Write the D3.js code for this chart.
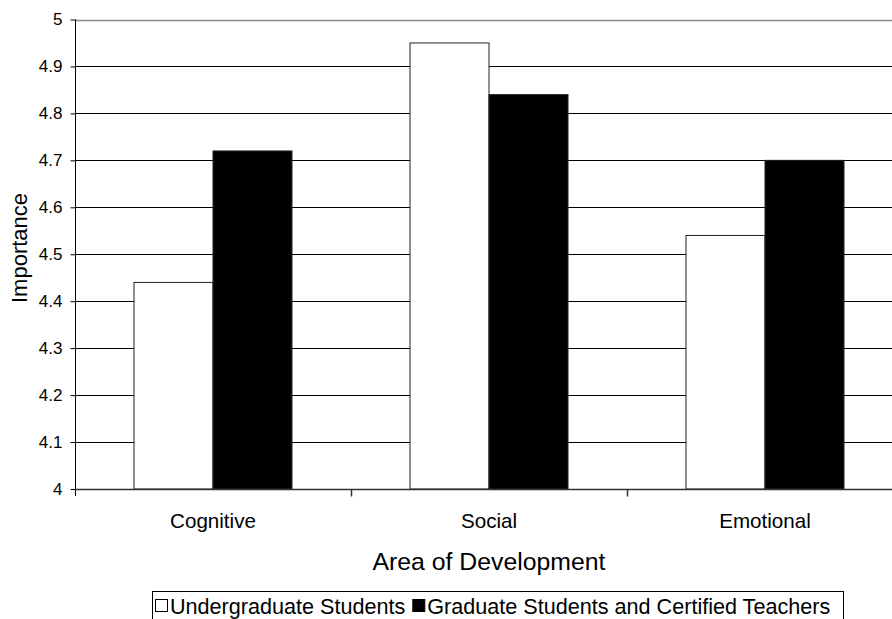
<!DOCTYPE html>
<html>
<head>
<meta charset="utf-8">
<script src="https://cdn.jsdelivr.net/npm/d3@7"></script>
<style>
  html, body { margin: 0; padding: 0; background: #fff; }
  svg { display: block; font-family: "Liberation Sans", Arial, sans-serif; }
</style>
</head>
<body>
<svg id="chart" width="892" height="619"></svg>
<script>
// Mean importance ratings by area of development
const categories = ["Cognitive", "Social", "Emotional"];
const seriesNames = ["Undergraduate Students", "Graduate Students and Certified Teachers"];
const undergradValues = [4.44, 4.95, 4.54];
const graduateValues = [4.72, 4.84, 4.70];
const yTicks = [4, 4.1, 4.2, 4.3, 4.4, 4.5, 4.6, 4.7, 4.8, 4.9, 5];
const seriesFill = ["#ffffff", "#000000"];

const svg = d3.select("#chart");
const plot = { left: 75, right: 903, top: 19.5, bottom: 489 };

const x = d3.scaleBand().domain(categories).range([plot.left, plot.right]).padding(0);
const y = d3.scaleLinear().domain([4, 5]).range([plot.bottom, plot.top]);
const barW = x.bandwidth() * 79 / 276;

// horizontal gridlines
svg.append("g").selectAll("line").data(yTicks.slice(1)).join("line")
  .attr("x1", plot.left).attr("x2", plot.right)
  .attr("y1", d => Math.round(y(d)) + 0.5).attr("y2", d => Math.round(y(d)) + 0.5)
  .attr("stroke", d => d === 5 ? "#888" : "#000").attr("stroke-width", d => d === 5 ? 1.5 : 1);

// bars
const rows = categories.map((c, i) => [
  { cat: c, s: 0, v: undergradValues[i] },
  { cat: c, s: 1, v: graduateValues[i] }
]).flat();

svg.append("g").selectAll("rect").data(rows).join("rect")
  .attr("x", d => x(d.cat) + x.bandwidth() / 2 - barW + d.s * barW)
  .attr("width", barW)
  .attr("y", d => y(d.v))
  .attr("height", d => y(4) - y(d.v))
  .attr("fill", d => seriesFill[d.s])
  .attr("stroke", "#222").attr("stroke-width", 1);

// y axis
const yAxis = d3.axisLeft(y).tickValues(yTicks).tickSize(5).tickSizeOuter(0)
  .tickFormat(d => d3.format("")(+d.toFixed(1)));
const gy = svg.append("g").attr("transform", `translate(${plot.left + 0.5},0)`).call(yAxis);
gy.select(".domain").attr("stroke", "#000").attr("d", `M0,${plot.top}V${plot.bottom + 7}`);
gy.selectAll(".tick line").attr("stroke", "#000");
gy.selectAll(".tick text").attr("font-size", 17).attr("fill", "#000").attr("x", -13)
  .attr("font-family", "Liberation Sans, Arial, sans-serif");

// x axis baseline with separator ticks between categories
const gx = svg.append("g").attr("transform", `translate(0,${plot.bottom + 0.5})`);
gx.append("line").attr("x1", plot.left).attr("x2", plot.right).attr("stroke", "#333").attr("stroke-width", 1.5);
gx.selectAll("line.sep").data(categories.slice(1)).join("line").attr("class", "sep")
  .attr("x1", d => Math.round(x(d)) + 0.5).attr("x2", d => Math.round(x(d)) + 0.5)
  .attr("y1", 0).attr("y2", 7).attr("stroke", "#333").attr("stroke-width", 1.5);

// category labels
svg.append("g").selectAll("text").data(categories).join("text")
  .attr("x", d => x(d) + x.bandwidth() / 2).attr("y", 528)
  .attr("text-anchor", "middle").attr("font-size", 20.6).text(d => d);

// axis titles
svg.append("text").attr("x", 489).attr("y", 570).attr("text-anchor", "middle")
  .attr("font-size", 24.8).text("Area of Development");
svg.append("text").attr("transform", "translate(27,248) rotate(-90)").attr("text-anchor", "middle")
  .attr("font-size", 22).text("Importance");

// legend
const legend = svg.append("g");
legend.append("rect").attr("x", 152.5).attr("y", 591.5).attr("width", 691).attr("height", 40)
  .attr("fill", "#fff").attr("stroke", "#000").attr("stroke-width", 1);
let lx = 155;
seriesNames.forEach((name, i) => {
  legend.append("rect").attr("x", lx + 0.5).attr("y", 599.5).attr("width", 12).attr("height", 12)
    .attr("fill", seriesFill[i]).attr("stroke", "#000").attr("stroke-width", 1);
  const t = legend.append("text").attr("x", lx + 15).attr("y", 613.5).attr("font-size", 21.6).text(name);
  lx += 15 + t.node().getComputedTextLength() + 7;
});
</script>
</body>
</html>
